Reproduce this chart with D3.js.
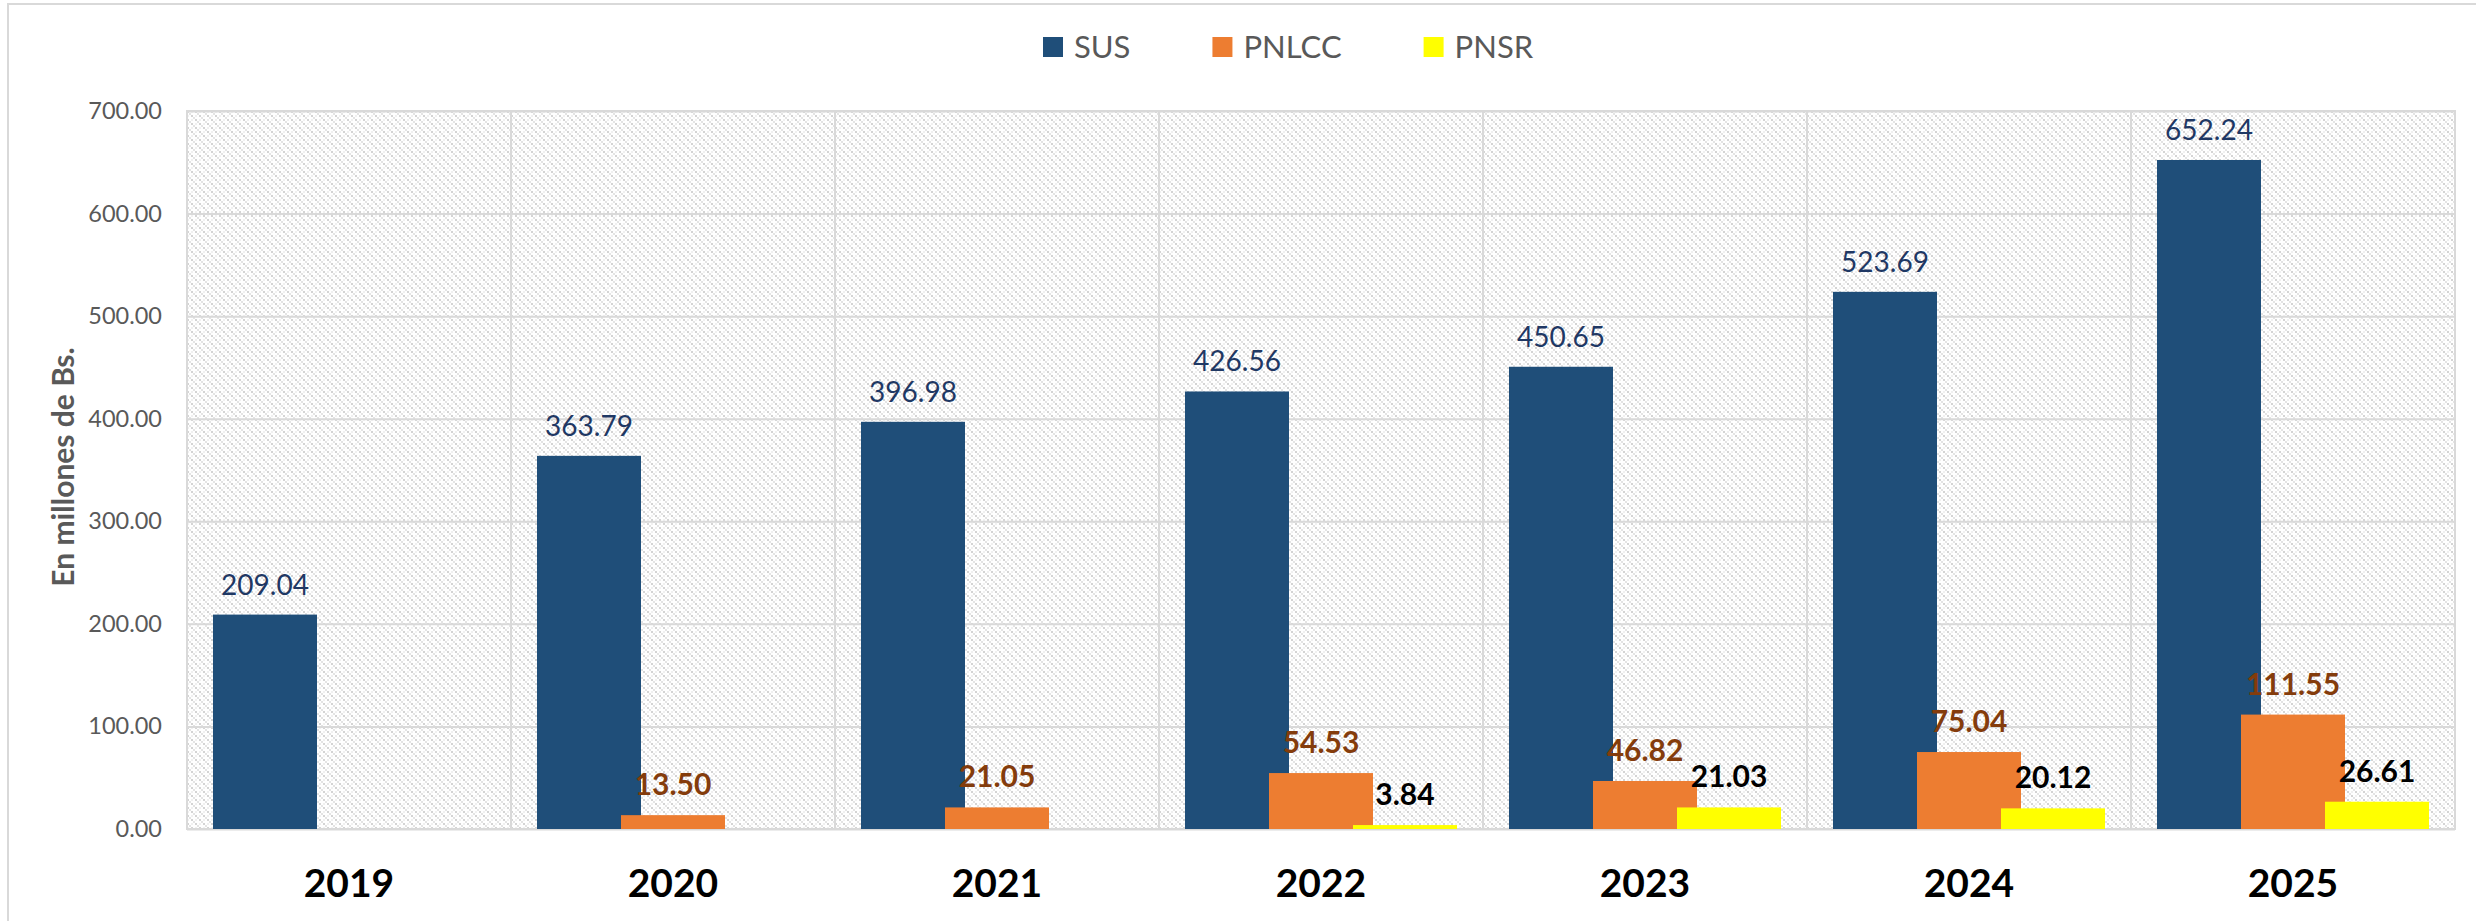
<!DOCTYPE html>
<html>
<head>
<meta charset="utf-8">
<script src="https://cdn.jsdelivr.net/npm/d3@7"></script>
<style>
  body { margin: 0; background: #ffffff; }
  svg { display: block; }
</style>
</head>
<body>
<div id="wrapper"></div>
<script>
const years = ["2019", "2020", "2021", "2022", "2023", "2024", "2025"]
const seriesNames = ["SUS", "PNLCC", "PNSR"]
const susValues = [209.04, 363.79, 396.98, 426.56, 450.65, 523.69, 652.24]
const pnlccValues = [null, 13.50, 21.05, 54.53, 46.82, 75.04, 111.55]
const pnsrValues = [null, null, null, 3.84, 21.03, 20.12, 26.61]
const yTicks = [0, 100, 200, 300, 400, 500, 600, 700]
const yTitle = "En millones de Bs."

function drawChart() {
    const dimensions = {
        width: 2476,
        height: 921,
        margin: { top: 111, bottom: 92, left: 187, right: 21 }
    }
    dimensions.boundedWidth = dimensions.width - dimensions.margin.left - dimensions.margin.right
    dimensions.boundedHeight = dimensions.height - dimensions.margin.top - dimensions.margin.bottom

    const colors = { SUS: "#1F4E79", PNLCC: "#ED7D31", PNSR: "#FFFF00" }
    const labelColors = { SUS: "#1F3864", PNLCC: "#843C0C", PNSR: "#000000" }
    const labelWeights = { SUS: "normal", PNLCC: "bold", PNSR: "bold" }
    const labelSizes = { SUS: "28px", PNLCC: "30px", PNSR: "30px" }
    const valuesBySeries = { SUS: susValues, PNLCC: pnlccValues, PNSR: pnsrValues }
    const font = "Lato, 'Open Sans', sans-serif"
    const gridColor = "#D9D9D9"

    const wrapper = d3.select("#wrapper").append("svg")
        .attr("width", dimensions.width)
        .attr("height", dimensions.height)

    // dotted diagonal pattern behind the bars
    const defs = wrapper.append("defs")
    const pattern = defs.append("pattern")
        .attr("id", "hatch")
        .attr("width", 8).attr("height", 8)
        .attr("patternUnits", "userSpaceOnUse")
    pattern.append("rect").attr("width", 8).attr("height", 8).attr("fill", "#ffffff")
    ;[[0, 0, "#D4D4D4"], [2, 2, "#E4E4E4"], [4, 4, "#D4D4D4"], [6, 6, "#E4E4E4"], [4, 0, "#F0F0F0"], [0, 4, "#F0F0F0"]].forEach(p => {
        pattern.append("rect")
            .attr("x", p[0]).attr("y", p[1])
            .attr("width", 2).attr("height", 2)
            .attr("fill", p[2])
    })

    // outer chart border (only left and top visible)
    wrapper.append("path")
        .attr("d", "M8,921 L8,4 L2476,4")
        .attr("fill", "none")
        .attr("stroke", gridColor)
        .attr("stroke-width", 2)

    const bounded = wrapper.append("g")
        .attr("transform", `translate(${dimensions.margin.left},${dimensions.margin.top})`)

    const xScale = d3.scaleBand()
        .domain(years)
        .range([0, dimensions.boundedWidth])
    const barWidth = 104
    const offsetScale = d3.scalePoint()
        .domain(seriesNames)
        .range([-84, 84])
    const yScale = d3.scaleLinear()
        .domain([0, 700])
        .range([dimensions.boundedHeight, 0])

    bounded.append("rect")
        .attr("width", dimensions.boundedWidth)
        .attr("height", dimensions.boundedHeight)
        .attr("fill", "url(#hatch)")

    // horizontal gridlines
    const grid = bounded.append("g")
        .call(d3.axisLeft(yScale).tickValues(yTicks).tickSize(-dimensions.boundedWidth).tickFormat(""))
    grid.select(".domain").remove()
    grid.selectAll("line").attr("stroke", gridColor).attr("stroke-width", 2)

    // vertical gridlines between years
    bounded.selectAll(".vgrid")
        .data(years.slice(1))
        .enter()
        .append("line")
        .attr("class", "vgrid")
        .attr("x1", d => xScale(d)).attr("x2", d => xScale(d))
        .attr("y1", 0).attr("y2", dimensions.boundedHeight)
        .attr("stroke", gridColor)
        .attr("stroke-width", 2)

    bounded.append("rect")
        .attr("width", dimensions.boundedWidth)
        .attr("height", dimensions.boundedHeight)
        .attr("fill", "none")
        .attr("stroke", gridColor)
        .attr("stroke-width", 2)

    // y axis labels
    const yAxis = bounded.append("g")
        .call(d3.axisLeft(yScale).tickValues(yTicks).tickSize(0).tickPadding(25).tickFormat(d3.format(".2f")))
    yAxis.select(".domain").remove()
    yAxis.selectAll("text")
        .style("font-family", font)
        .style("font-size", "23.5px")
        .attr("fill", "#595959")

    // bars
    const barData = []
    seriesNames.forEach(s => {
        valuesBySeries[s].forEach((v, i) => {
            if (v !== null) barData.push({ series: s, year: years[i], value: v })
        })
    })
    const barX = d => xScale(d.year) + xScale.bandwidth() / 2 + offsetScale(d.series) - barWidth / 2

    bounded.selectAll(".bar")
        .data(barData)
        .enter()
        .append("rect")
        .attr("class", "bar")
        .attr("x", barX)
        .attr("y", d => yScale(d.value))
        .attr("width", barWidth)
        .attr("height", d => yScale(0) - yScale(d.value))
        .attr("fill", d => colors[d.series])

    bounded.selectAll(".label")
        .data(barData)
        .enter()
        .append("text")
        .attr("class", "label")
        .text(d => d3.format(".2f")(d.value))
        .attr("x", d => barX(d) + barWidth / 2)
        .attr("y", d => yScale(d.value) - 20)
        .attr("text-anchor", "middle")
        .style("fill", d => labelColors[d.series])
        .style("font-weight", d => labelWeights[d.series])
        .style("font-size", d => labelSizes[d.series])
        .style("font-family", font)

    // year labels
    bounded.selectAll(".year")
        .data(years)
        .enter()
        .append("text")
        .attr("class", "year")
        .text(d => d)
        .attr("x", d => xScale(d) + xScale.bandwidth() / 2)
        .attr("y", dimensions.boundedHeight + 68)
        .attr("text-anchor", "middle")
        .style("fill", "#000000")
        .style("font-weight", "bold")
        .style("font-size", "39px")
        .style("font-family", font)

    // y title
    wrapper.append("text")
        .text(yTitle)
        .attr("transform", `translate(74,${dimensions.margin.top + dimensions.boundedHeight / 2 - 3}) rotate(-90)`)
        .attr("text-anchor", "middle")
        .style("fill", "#595959")
        .style("font-weight", "bold")
        .style("font-size", "30px")
        .style("font-family", font)

    // legend
    const legend = wrapper.append("g").attr("transform", "translate(1043,0)")
    let legendX = 0
    seriesNames.forEach(s => {
        const item = legend.append("g").attr("transform", `translate(${legendX},0)`)
        item.append("rect")
            .attr("x", 0).attr("y", 37)
            .attr("width", 20).attr("height", 20)
            .attr("fill", colors[s])
        const t = item.append("text")
            .text(s)
            .attr("x", 31).attr("y", 58)
            .style("fill", "#595959")
            .style("font-size", "31px")
            .style("font-family", font)
        legendX += 31 + t.node().getComputedTextLength() + 82
    })
}

drawChart()
</script>
</body>
</html>
